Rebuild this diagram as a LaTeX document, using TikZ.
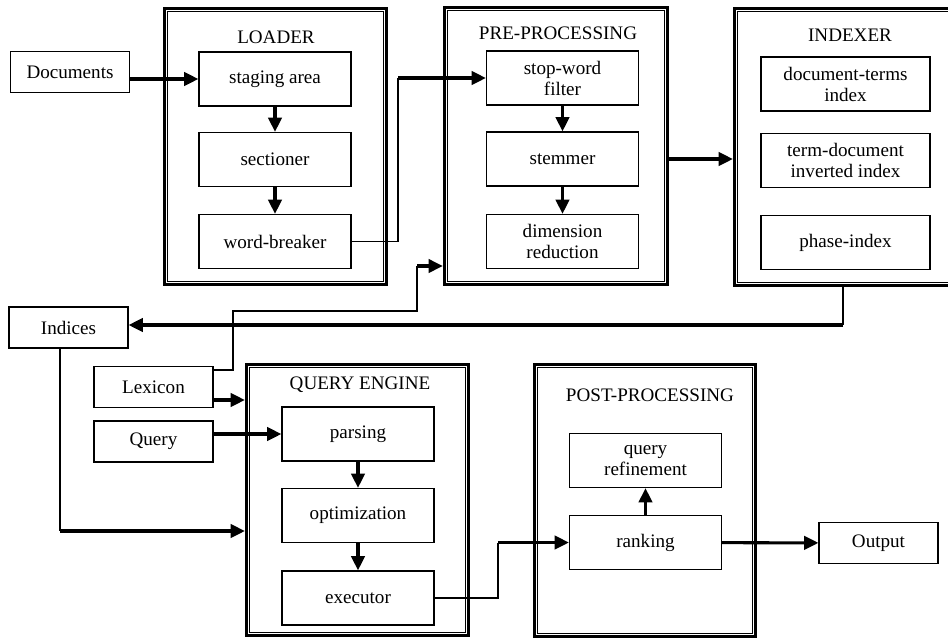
\documentclass[tikz,border=0pt]{standalone}
\usepackage{fontspec}
\setmainfont{Liberation Serif}
\usetikzlibrary{arrows.meta, positioning, calc}

\tikzset{
  box/.style={draw, line width=0.6pt, minimum width=79.6pt, minimum height=28.3pt, align=center, inner sep=1pt},
  widebox/.style={box, minimum width=88.5pt},
  smallbox/.style={draw, line width=0.6pt, minimum width=62.3pt, minimum height=21.5pt},
  frame/.style={draw, line width=1.7pt, inner sep=0pt},
  innerline/.style={line width=0.6pt},
  title/.style={inner sep=0pt},
  flow/.style={line width=1.6pt, -{Triangle[length=7.5pt,width=7pt]}},
  link/.style={line width=0.6pt},
}

\begin{document}
\begin{tikzpicture}[x=0.5236pt, y=-0.5236pt, font=\fontsize{10}{11}\selectfont]
  \clip (0,0) rectangle (948,642);

  % stage frames
  \node[frame, minimum width=116.2pt, minimum height=144.5pt] (loader) at (275.5,146.5) {};
  \node[frame, minimum width=116.8pt, minimum height=145pt] (pre) at (556,146) {};
  \node[frame, minimum width=116.2pt, minimum height=145pt] (indexer) at (845.5,147) {};
  \node[frame, minimum width=116.2pt, minimum height=141.9pt] (qengine) at (357.5,500) {};
  \node[frame, minimum width=115.7pt, minimum height=142.4pt] (post) at (645,500.5) {};
  \foreach \f in {loader,pre,indexer,qengine,post}
    \draw[innerline] ([shift={(2.4pt,-2.4pt)}]\f.north west) rectangle ([shift={(-2.4pt,2.4pt)}]\f.south east);

  \node[title] at (276,37) {LOADER};
  \node[title] at (558,33) {PRE-PROCESSING};
  \node[title] at (850,35) {INDEXER};
  \node[title] at (360,385) {QUERY ENGINE};
  \node[title] at (650,395) {POST-PROCESSING};

  % loader
  \node[box] (staging) at (275,79) {staging area};
  \node[box] (sectioner) at (275,159.5) {sectioner};
  \node[box] (breaker) at (275,241.5) {word-breaker};

  % pre-processing
  \node[box] (filter) at (562.5,78) {stop-word\\filter};
  \node[box] (stemmer) at (562.5,159) {stemmer};
  \node[box] (dimred) at (562.5,241.5) {dimension\\reduction};

  % indexer
  \node[widebox] (docterms) at (845.5,84) {document-terms\\index};
  \node[widebox] (termdoc) at (845.5,160.5) {term-document\\inverted index};
  \node[widebox] (phase) at (845.5,242.5) {phase-index};

  % query engine
  \node[box] (parsing) at (358,434) {parsing};
  \node[box] (optim) at (358,515.5) {optimization};
  \node[box] (executor) at (358,598) {executor};

  % post-processing
  \node[box] (refine) at (645.5,460.5) {query\\refinement};
  \node[box] (ranking) at (645.5,542.5) {ranking};

  % outside
  \node[smallbox] (docs) at (70,72) {Documents};
  \node[smallbox] (indices) at (68.5,327.5) {Indices};
  \node[smallbox] (lexicon) at (153.5,387) {Lexicon};
  \node[smallbox] (query) at (153.5,441.5) {Query};
  \node[smallbox] (output) at (878.5,543) {Output};

  \coordinate (wbturn) at (398,78);
  \coordinate (ixturn) at (843,325);
  \coordinate (inturn) at (60,531);
  \coordinate (lxa) at (233,311);
  \coordinate (lxb) at (417,266);
  \coordinate (exturn) at (498,542.5);

  % connectors
  \draw[flow] (staging.west -| docs.east) -- (staging.west);
  \draw[flow] (staging) -- (sectioner);
  \draw[flow] (sectioner) -- (breaker);
  \draw[link] (breaker.east) -| (wbturn);
  \draw[flow] (wbturn) -- (filter.west);
  \draw[flow] (filter) -- (stemmer);
  \draw[flow] (stemmer) -- (dimred);
  \draw[flow] (stemmer.east -| pre.east) -- (stemmer.east -| indexer.west);
  \draw[link] (ixturn |- indexer.south) -- (ixturn);
  \draw[flow] (ixturn) -- (ixturn -| indices.east);
  \draw[link] (inturn |- indices.south) -- (inturn);
  \draw[flow] (inturn) -- (inturn -| qengine.west);
  \draw[link] ([yshift=8.9pt]lexicon.east) -| (lxa) -| (lxb);
  \draw[flow] (lxb) -- (lxb -| pre.west);
  \draw[flow] ([yshift=-6.8pt]lexicon.east) -- ([yshift=-6.8pt]lexicon.east -| qengine.west);
  \draw[flow] (parsing.west -| query.east) -- (parsing.west);
  \draw[flow] (parsing) -- (optim);
  \draw[flow] (optim) -- (executor);
  \draw[link] (executor.east) -| (exturn);
  \draw[flow] (exturn) -- (ranking.west);
  \draw[flow] (ranking) -- (refine);
  \draw[flow] (ranking) -- (output);
\end{tikzpicture}
\end{document}
